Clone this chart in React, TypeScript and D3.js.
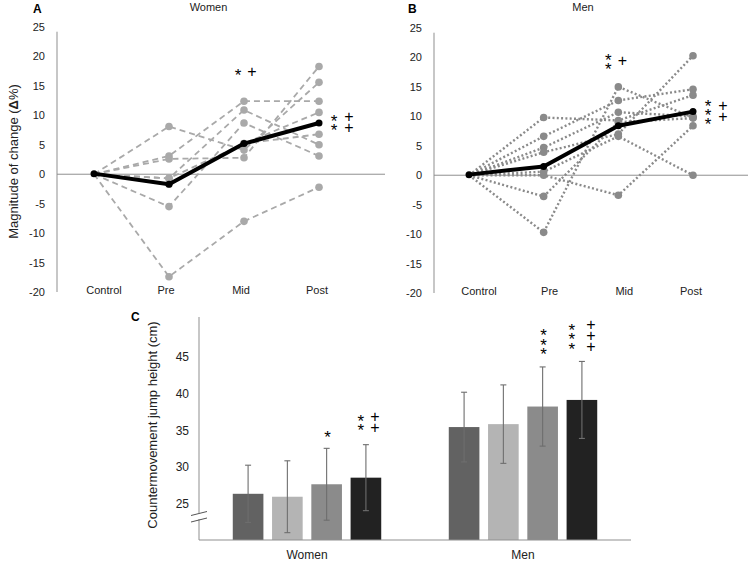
import React from "react";
import * as d3 from "d3";

const timepoints = ["Control", "Pre", "Mid", "Post"];
const yTicksAB = [25, 20, 15, 10, 5, 0, -5, -10, -15, -20];

// Panel A: women individual Δ% (dashed)
const womenA1 = [0, 8.1, 4.1, 15.6];
const womenA2 = [0, 3.1, 12.4, 12.4];
const womenA3 = [0, 2.6, 2.8, 18.3];
const womenA4 = [0, -0.7, 10.9, 5.0];
const womenA5 = [0, -5.5, 8.7, 3.1];
const womenA6 = [0, -17.4, -8.0, -2.2];
const womenA7 = [0, -0.7, 5.2, 10.5];
const womenA8 = [0, -1.7, 5.2, 6.8];
const womenIndividuals = [womenA1, womenA2, womenA3, womenA4, womenA5, womenA6, womenA7, womenA8];
const womenMean = [0.1, -1.7, 5.2, 8.7];

// Panel B: men individual Δ% (dotted)
const menB1 = [0, 9.8, 9.3, 13.6];
const menB2 = [0, 6.6, 12.7, 14.6];
const menB3 = [0, 4.7, 10.7, 10.0];
const menB4 = [0, 3.9, 7.0, 20.3];
const menB5 = [0, 0.6, 6.6, 0];
const menB6 = [0, 0, -3.4, 8.4];
const menB7 = [0, -3.6, 9.0, 9.7];
const menB8 = [0, -9.7, 15.0, 9.8];
const menIndividuals = [menB1, menB2, menB3, menB4, menB5, menB6, menB7, menB8];
const menMean = [0.1, 1.5, 8.4, 10.8];

// significance marks [stars, plusses] per timepoint
const womenSigA = [[0, 0], [0, 0], [1, 1], [2, 2]];
const menSigB = [[0, 0], [0, 0], [2, 1], [3, 2]];

// Panel C: CMJ height (cm)
const groups = ["Women", "Men"];
const womenCMJ = [26.3, 25.9, 27.6, 28.5];
const womenCMJsd = [3.9, 4.9, 4.9, 4.5];
const menCMJ = [35.4, 35.8, 38.2, 39.1];
const menCMJsd = [4.75, 5.35, 5.4, 5.25];
const womenSigC = [[0, 0], [0, 0], [1, 0], [2, 2]];
const menSigC = [[0, 0], [0, 0], [3, 0], [3, 3]];
const yTicksC = [25, 30, 35, 40, 45];
const barColors = ["#626262", "#b4b4b4", "#8b8b8b", "#222222"];

const FONT = "'Liberation Sans', Arial, Helvetica, sans-serif";

function Column({ x, cy, n, gap, glyph, size, shift }: any) {
  if (!n) return null;
  const first = cy - ((n - 1) / 2) * gap + shift;
  return (
    <text x={x} y={first} fontSize={size} textAnchor="middle" fontFamily={FONT} fill="#000">
      {Array.from({ length: n }).map((_, i) => (
        <tspan key={i} x={x} dy={i === 0 ? 0 : gap}>{glyph}</tspan>
      ))}
    </text>
  );
}

function Marks({ x, y, stars, plus, starDx, plusDx, rowGap }: any) {
  return (
    <g>
      <Column x={x + starDx} cy={y} n={stars} gap={rowGap} glyph="*" size={17} shift={10} />
      <Column x={x + plusDx} cy={y} n={plus} gap={rowGap + 1.5} glyph="+" size={16} shift={5.7} />
    </g>
  );
}

function LinePanel({ title, letter, individuals, mean, sig, x0, x1, yTop, yBot, axisX, zeroEnd, dashed, letterX, yLabel, midLabelDx }: any) {
  const x = d3.scalePoint().domain(timepoints).range([x0, x1]);
  const y = d3.scaleLinear().domain([-20, 25]).range([yBot, yTop]);
  const line = d3.line<number>().x((_, i) => x(timepoints[i]) as number).y((d) => y(d));
  const indColor = dashed ? "#a9a9a9" : "#8a8a8a";
  return (
    <g>
      <text x={letterX} y={13} fontFamily={FONT} fontWeight="bold" fontSize={12}>{letter}</text>
      <text x={(x0 + x1) / 2 + 2} y={11} fontFamily={FONT} fontSize={11} textAnchor="middle" fill="#222">{title}</text>
      {yLabel && (
        <text transform={`translate(${13},${(yTop + yBot) / 2 + 2}) rotate(-90)`} fontFamily={FONT} fontSize={13} textAnchor="middle" fill="#222" dominantBaseline="central">
          Magnitude of change (<tspan fontWeight="bold">Δ</tspan>%)
        </text>
      )}
      <line x1={axisX} x2={axisX} y1={y(24.2)} y2={y(-20)} stroke="#8f8f8f" strokeWidth={1} />
      <line x1={axisX} x2={zeroEnd} y1={y(0)} y2={y(0)} stroke="#8f8f8f" strokeWidth={1} />
      {yTicksAB.map((t) => (
        <text key={t} x={axisX - 12} y={y(t) + 4} textAnchor="end" fontFamily={FONT} fontSize={11} fill="#222">{t}</text>
      ))}
      {timepoints.map((c, i) => (
        <text key={c} x={(x(c) as number) + (i === 0 ? 10 : i === 3 ? -2 : midLabelDx)} y={y(-20) + 2} textAnchor="middle" fontFamily={FONT} fontSize={11} fill="#222">{c}</text>
      ))}
      {individuals.map((vals: number[], k: number) => (
        <path key={k} d={line(vals) as string} fill="none" stroke={indColor} strokeWidth={dashed ? 1.8 : 2.4}
          strokeDasharray={dashed ? "6,4" : "2,2.3"} />
      ))}
      {individuals.map((vals: number[], k: number) =>
        vals.slice(1).map((v, i) => (
          <circle key={k + "-" + i} cx={x(timepoints[i + 1]) as number} cy={y(v)} r={3.8} fill={indColor} />
        ))
      )}
      <path d={line(mean) as string} fill="none" stroke="#000" strokeWidth={4} strokeLinejoin="round" />
      {mean.map((v: number, i: number) => (
        <circle key={i} cx={x(timepoints[i]) as number} cy={y(v)} r={3.5} fill="#000" />
      ))}
      {sig.map((s: number[], i: number) => {
        if (!s[0] && !s[1]) return null;
        const px = x(timepoints[i]) as number;
        if (i === 3) {
          return <Marks key={i} x={px} y={y(mean[i]) - 1} stars={s[0]} plus={s[1]} starDx={15} plusDx={30} rowGap={9} />;
        }
        return <Marks key={i} x={px} y={dashed ? y(17.5) : y(19.5)} stars={s[0]} plus={s[1]} starDx={dashed ? -6 : -10} plusDx={dashed ? 8 : 4} rowGap={9} />;
      })}
    </g>
  );
}

function BarPanel() {
  const x = d3.scaleBand().domain(groups).range([199, 631]);
  const xi = d3.scaleBand<number>().domain([0, 1, 2, 3]).range([0, x.bandwidth()]).paddingInner(0.22).paddingOuter(0.86);
  const y = d3.scaleLinear().domain([20, 50]).range([540, 320]);
  const data = [
    { g: "Women", m: womenCMJ, sd: womenCMJsd, sig: womenSigC },
    { g: "Men", m: menCMJ, sd: menCMJsd, sig: menSigC },
  ];
  return (
    <g>
      <text x={131} y={321} fontFamily={FONT} fontWeight="bold" fontSize={12}>C</text>
      <text transform={`translate(${152},${425}) rotate(-90)`} fontFamily={FONT} fontSize={13} textAnchor="middle" dominantBaseline="central" fill="#222">
        Countermovement jump height (cm)
      </text>
      <line x1={199} x2={199} y1={317} y2={y(20)} stroke="#8f8f8f" strokeWidth={1} />
      {yTicksC.map((t) => (
        <text key={t} x={189} y={y(t) + 4.5} textAnchor="end" fontFamily={FONT} fontSize={12} fill="#222">{t}</text>
      ))}
      {/* axis break */}
      <rect x={196} y={513} width={6} height={6} fill="#fff" />
      <line x1={191} y1={515.5} x2={207} y2={511.5} stroke="#555" strokeWidth={1} />
      <line x1={191} y1={522} x2={207} y2={518} stroke="#555" strokeWidth={1} />
      {data.map((d) => (
        <g key={d.g}>
          {d.m.map((v, i) => {
            const bx = (x(d.g) as number) + (xi(i) as number);
            const cx = bx + xi.bandwidth() / 2;
            return (
              <g key={i}>
                <rect x={bx} y={y(v)} width={xi.bandwidth()} height={y(20) - y(v)} fill={barColors[i]} />
                <line x1={cx} x2={cx} y1={y(v + d.sd[i])} y2={y(v - d.sd[i])} stroke="#6e6e6e" strokeWidth={1.1} />
                <line x1={cx - 3} x2={cx + 3} y1={y(v + d.sd[i])} y2={y(v + d.sd[i])} stroke="#6e6e6e" strokeWidth={1.1} />
                <line x1={cx - 3} x2={cx + 3} y1={y(v - d.sd[i])} y2={y(v - d.sd[i])} stroke="#6e6e6e" strokeWidth={1.1} />
                {(d.sig[i][0] > 0 || d.sig[i][1] > 0) && (
                  <Marks x={cx} y={y(v + d.sd[i]) - (d.sig[i][0] === 3 ? 26 : d.sig[i][1] ? 23 : 15)}
                    stars={d.sig[i][0]} plus={d.sig[i][1]}
                    starDx={d.sig[i][1] ? -5 - (d.sig[i][0] === 3 ? 5 : 0) : 1}
                    plusDx={d.sig[i][1] ? 9 : 0} rowGap={9.5} />
                )}
              </g>
            );
          })}
        </g>
      ))}
      <line x1={199} x2={631} y1={y(20)} y2={y(20)} stroke="#8f8f8f" strokeWidth={1.2} />
      {groups.map((g) => (
        <text key={g} x={(x(g) as number) + x.bandwidth() / 2} y={559} textAnchor="middle" fontFamily={FONT} fontSize={12} fill="#222">{g}</text>
      ))}
    </g>
  );
}

export default function App() {
  return (
    <svg width={750} height={561} style={{ position: "absolute", left: 0, top: 0, background: "#fff" }}>
      <rect width={750} height={561} fill="#fff" />
      <LinePanel title="Women" letter="A" individuals={womenIndividuals} mean={womenMean} sig={womenSigA}
        x0={94} x1={319} yTop={27} yBot={292} axisX={57} zeroEnd={385} dashed={true} letterX={33} yLabel={true} midLabelDx={-3} />
      <LinePanel title="Men" letter="B" individuals={menIndividuals} mean={menMean} sig={menSigB}
        x0={469} x1={693} yTop={28} yBot={293} axisX={434} zeroEnd={748} dashed={false} letterX={408} yLabel={false} midLabelDx={6} />
      <BarPanel />
    </svg>
  );
}
